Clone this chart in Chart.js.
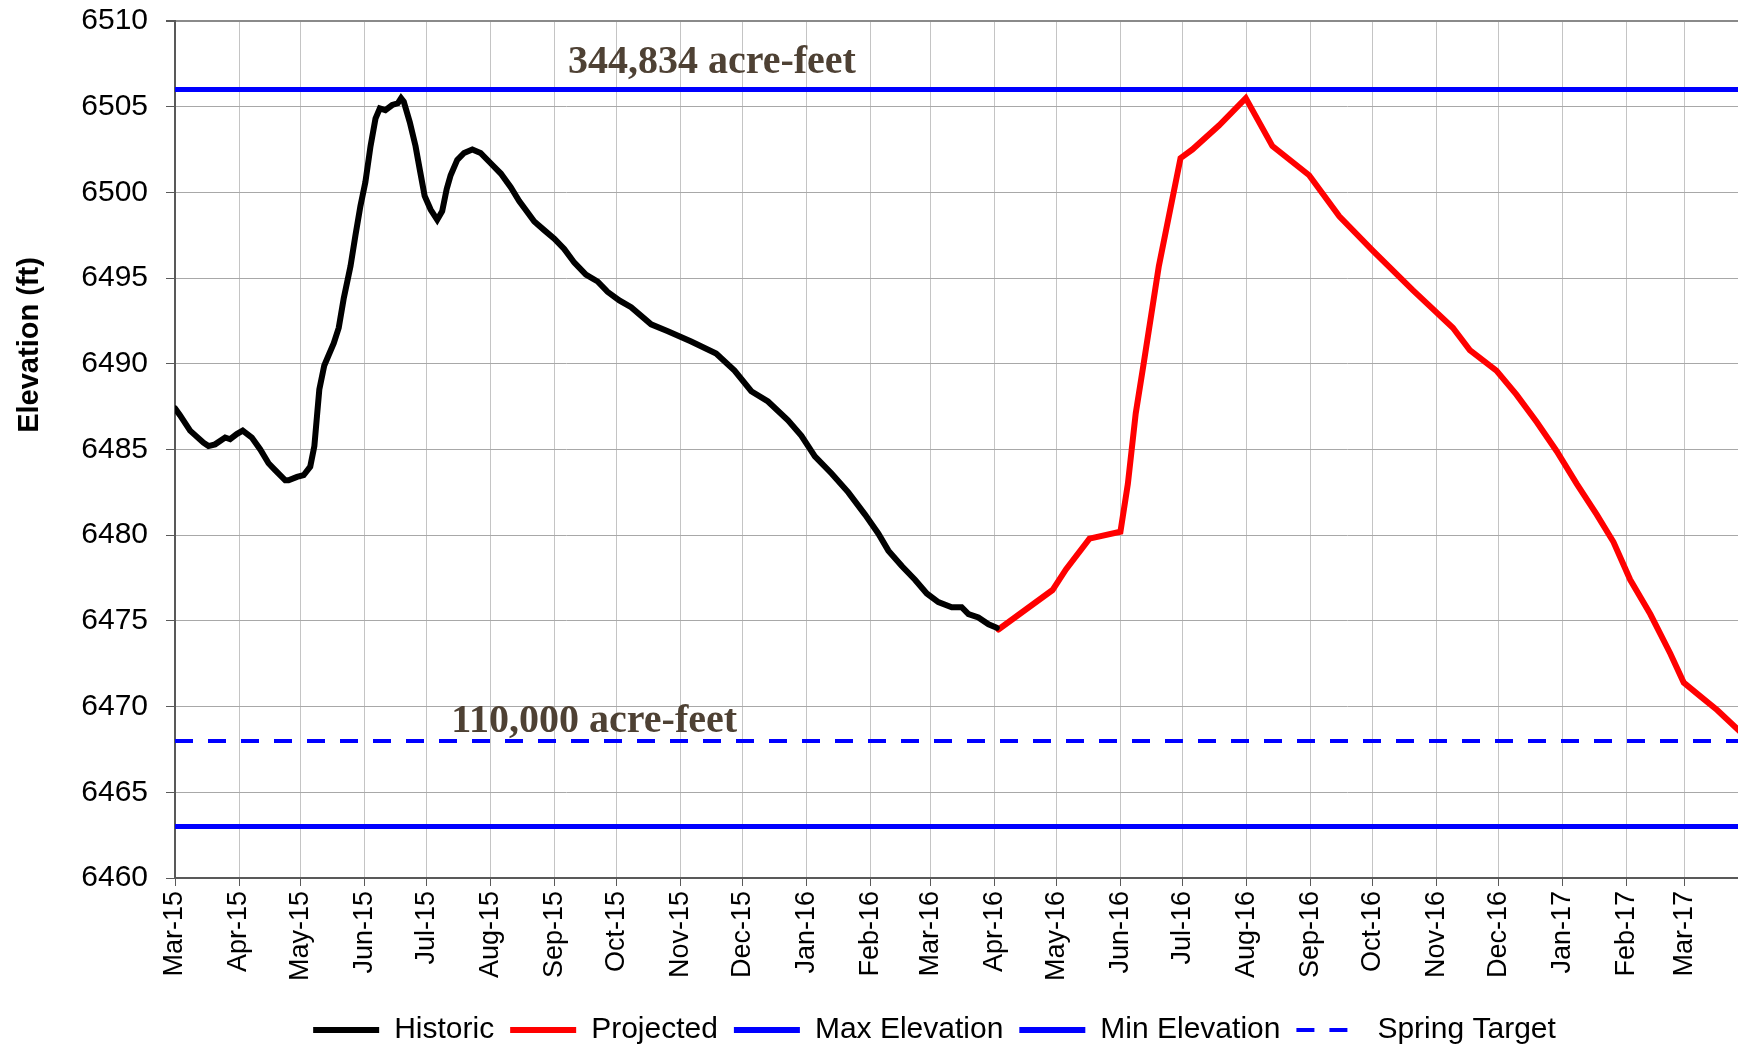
<!DOCTYPE html>
<html>
<head>
<meta charset="utf-8">
<script src="https://cdn.jsdelivr.net/npm/chart.js@4.4.1/dist/chart.umd.min.js"></script>
<style>
  body { margin: 0; background: #fff; }
  #wrap { width: 1738px; height: 1045px; }
</style>
</head>
<body>
<div id="wrap"><canvas id="elev"></canvas></div>
<script>
// x values are days counted from 1 Mar 2015
const histDays = [0, 2.4, 7.3, 13.8, 16.2, 19.4, 24.3, 26.7, 29.9, 32.8, 37.2, 41.3, 45.3, 48.5, 53.4, 55,
    59.1, 62.3, 65.5, 67.5, 68.8, 69.9, 72.3, 74.4, 76.9, 79.3, 81.7, 85, 87.4, 89.8, 92.2, 94.7,
    97.1, 99.2, 101.9, 105.2, 107.9, 109.5, 110.8, 113.7, 116.5, 118.6, 120.9, 123.8, 127, 129.4,
    131.6, 133.5, 136.7, 140, 144, 148, 152.9, 157.8, 162.6, 166.7, 169.1, 174, 178.8, 183.7,
    188.5, 193.4, 199, 204.7, 209.5, 215.2, 220.9, 230.6, 238.7, 250, 262.1, 271, 279.1, 287.2,
    296.9, 303.4, 309.9, 318, 326.1, 334.2, 340.6, 345.5, 352, 358.4, 364.1, 369.7, 376.2, 381,
    384.3, 389.1, 394, 398]
const histElev = [6487.4, 6487.0, 6486.1, 6485.4, 6485.2, 6485.3, 6485.7, 6485.6, 6485.9, 6486.1, 6485.7,
    6485.0, 6484.2, 6483.8, 6483.2, 6483.2, 6483.4, 6483.5, 6484.0, 6485.2, 6487.0, 6488.5, 6489.9,
    6490.5, 6491.2, 6492.1, 6493.8, 6495.7, 6497.5, 6499.2, 6500.6, 6502.7, 6504.3, 6504.9, 6504.8,
    6505.1, 6505.2, 6505.5, 6505.3, 6504.1, 6502.7, 6501.3, 6499.8, 6499.0, 6498.4, 6498.9, 6500.2,
    6501.0, 6501.9, 6502.3, 6502.5, 6502.3, 6501.7, 6501.1, 6500.3, 6499.5, 6499.1, 6498.3, 6497.8,
    6497.3, 6496.7, 6495.9, 6495.2, 6494.8, 6494.2, 6493.7, 6493.3, 6492.3, 6491.9, 6491.3, 6490.6,
    6489.6, 6488.4, 6487.8, 6486.7, 6485.8, 6484.6, 6483.6, 6482.5, 6481.2, 6480.1, 6479.1, 6478.2,
    6477.4, 6476.6, 6476.1, 6475.8, 6475.8, 6475.4, 6475.2, 6474.8, 6474.6]
const projDays = [398.8, 425, 431.5, 442.9, 457.9, 461.5, 465.3, 469, 476.5, 487, 492.7, 505.6, 518.6,
    531.5, 549.3, 563.9, 580.1, 599.5, 618.9, 627.1, 640, 649.7, 659.5, 669.2, 678.9, 688.6, 696.7,
    704.8, 714.5, 724.2, 730.7, 738.8, 746.9, 758.8]
const projElev = [6474.5, 6476.8, 6478.0, 6479.8, 6480.2, 6483.0, 6487.1, 6489.9, 6495.7, 6502.0, 6502.5,
    6503.9, 6505.5, 6502.7, 6501.0, 6498.6, 6496.6, 6494.3, 6492.1, 6490.8, 6489.6, 6488.2, 6486.6,
    6484.9, 6483.0, 6481.2, 6479.6, 6477.4, 6475.4, 6473.1, 6471.4, 6470.6, 6469.8, 6468.45]
const maxElevation = 6506
const minElevation = 6463
const springTarget = 6468
const lastDay = 757

const monthLabels = ['Mar-15', 'Apr-15', 'May-15', 'Jun-15', 'Jul-15', 'Aug-15', 'Sep-15', 'Oct-15',
    'Nov-15', 'Dec-15', 'Jan-16', 'Feb-16', 'Mar-16', 'Apr-16', 'May-16', 'Jun-16', 'Jul-16', 'Aug-16',
    'Sep-16', 'Oct-16', 'Nov-16', 'Dec-16', 'Jan-17', 'Feb-17', 'Mar-17']
const yTicks = [6460, 6465, 6470, 6475, 6480, 6485, 6490, 6495, 6500, 6505, 6510]

const noteTexts = ['344,834 acre-feet', '110,000 acre-feet']
const noteDays = [190.3, 133.8]
const noteElev = [6506.95, 6468.53]

const dayMs = 86400000
const monthDays = monthLabels.map((m, i) => (Date.UTC(2015, 2 + i, 1) - Date.UTC(2015, 2, 1)) / dayMs)

function pts(xs, ys) {
    return xs.map((x, i) => ({x: x, y: ys[i]}))
}
function flat(v) {
    return [{x: 0, y: v}, {x: lastDay, y: v}]
}

Chart.defaults.font.family = "'Liberation Sans', Arial, sans-serif"
Chart.defaults.color = '#000'

const notesPlugin = {
    id: 'notes',
    afterLayout(chart) {
        // nudge the legend to where excel had it
        chart.legend.left -= 22
        chart.legend.right -= 22
    },
    afterDatasetsDraw(chart) {
        const c = chart.ctx
        const xs = chart.scales.x, ys = chart.scales.y
        c.save()
        c.font = "bold 40px 'Liberation Serif', 'Times New Roman', serif"
        c.fillStyle = '#4E4134'
        c.textAlign = 'left'
        c.textBaseline = 'alphabetic'
        noteTexts.forEach((t, i) => {
            c.fillText(t, xs.getPixelForValue(noteDays[i]), ys.getPixelForValue(noteElev[i]))
        })
        // y axis title, sits above the middle like the original
        c.font = "bold 29px 'Liberation Sans', Arial, sans-serif"
        c.fillStyle = '#000'
        c.textAlign = 'center'
        c.textBaseline = 'middle'
        c.translate(30, chart.chartArea.top + 324)
        c.rotate(-Math.PI / 2)
        c.fillText('Elevation (ft)', 0, 0)
        c.restore()
    }
}

const ctx = document.getElementById('elev').getContext('2d')
const elevChart = new Chart(ctx, {
    type: 'line',
    data: {
        datasets: [
            {label: 'Historic', data: pts(histDays, histElev), borderColor: '#000000', borderWidth: 6, borderCapStyle: 'round'},
            {label: 'Projected', data: pts(projDays, projElev), borderColor: '#FF0000', borderWidth: 6, borderCapStyle: 'round'},
            {label: 'Max Elevation', data: flat(maxElevation), borderColor: '#0000FF', borderWidth: 5},
            {label: 'Min Elevation', data: flat(minElevation), borderColor: '#0000FF', borderWidth: 5},
            {label: 'Spring Target', data: flat(springTarget), borderColor: '#0000FF', borderWidth: 4, borderDash: [18, 15]}
        ]
    },
    options: {
        responsive: true,
        maintainAspectRatio: false,
        animation: false,
        layout: {padding: {left: 0, right: 0, top: 21, bottom: 0}},
        elements: {point: {radius: 0}, line: {tension: 0, fill: false}},
        scales: {
            x: {
                type: 'linear',
                min: 0,
                max: lastDay,
                afterBuildTicks: (scale) => {
                    scale.ticks = monthDays.map(v => ({value: v}))
                },
                afterFit: (scale) => {
                    scale.height = 121
                    scale.paddingLeft = 0
                    scale.paddingRight = 0
                },
                ticks: {
                    autoSkip: false,
                    minRotation: 90,
                    maxRotation: 90,
                    padding: 5,
                    font: {size: 27},
                    callback: (v, i) => monthLabels[i]
                },
                grid: {color: '#C4C4C4', lineWidth: 1, tickLength: 8, tickColor: '#595959'},
                border: {color: '#595959', width: 2}
            },
            y: {
                min: 6460,
                max: 6510,
                afterBuildTicks: (scale) => {
                    scale.ticks = yTicks.map(v => ({value: v}))
                },
                afterFit: (scale) => {
                    scale.width = 175
                    scale.paddingTop = 0
                    scale.paddingBottom = 0
                },
                ticks: {padding: 18, font: {size: 30}, callback: (v) => String(v)},
                grid: {
                    color: (c) => c.tick && c.tick.value === 6510 ? '#8A8A8A' : '#A8A8A8',
                    lineWidth: (c) => c.tick && c.tick.value === 6510 ? 2 : 1,
                    tickLength: 9,
                    tickColor: '#595959'
                },
                border: {color: '#595959', width: 2}
            }
        },
        plugins: {
            legend: {
                position: 'bottom',
                fullSize: false,
                maxHeight: 46,
                labels: {
                    usePointStyle: true,
                    pointStyle: 'line',
                    pointStyleWidth: 66,
                    padding: 16,
                    color: '#000',
                    font: {size: 30},
                    generateLabels: (chart) => chart.data.datasets.map((ds, i) => ({
                        text: ds.label,
                        strokeStyle: ds.borderColor,
                        fillStyle: ds.borderColor,
                        lineWidth: ds.borderDash ? 4 : 6,
                        lineDash: ds.borderDash || [],
                        lineCap: 'butt',
                        pointStyle: 'line',
                        fontColor: '#000',
                        hidden: false,
                        datasetIndex: i
                    }))
                }
            },
            tooltip: {enabled: false}
        }
    },
    plugins: [notesPlugin]
})
</script>
</body>
</html>
